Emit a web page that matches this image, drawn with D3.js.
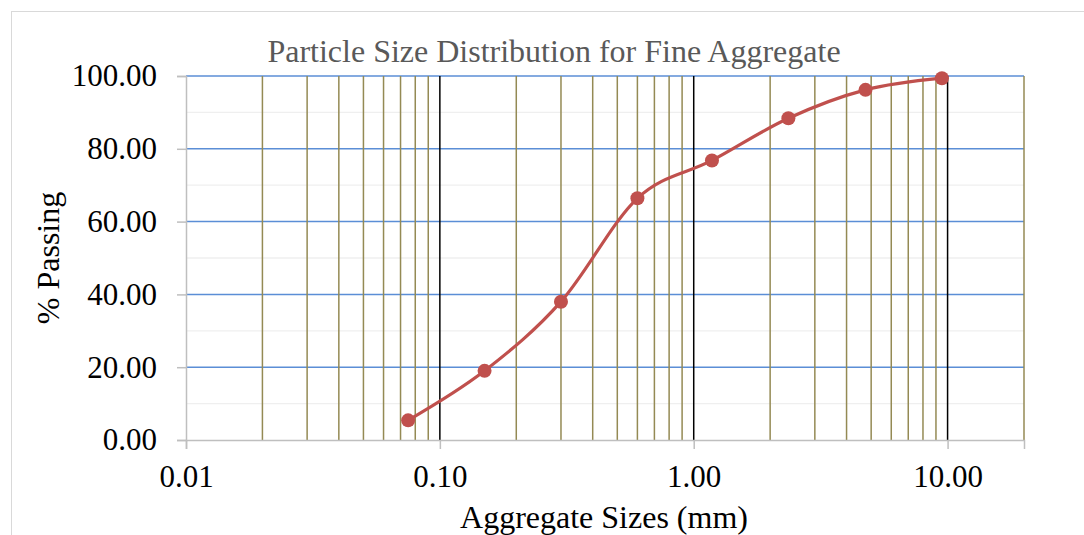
<!DOCTYPE html>
<html>
<head>
<meta charset="utf-8">
<script src="https://cdn.jsdelivr.net/npm/d3@7"></script>
<style>
  body { margin: 0; background: #fff; }
  text { font-family: "Liberation Serif", "Times New Roman", serif; }
</style>
</head>
<body>
<svg id="psdChart" width="1084" height="535"></svg>
<script>
// sieve sizes (mm) and % passing
var sieveSizes = [0.075, 0.15, 0.3, 0.6, 1.18, 2.36, 4.75, 9.5];
var percentPassing = [5.4, 19.0, 38.0, 66.4, 76.8, 88.4, 96.2, 99.4];
var yTicks = [0, 20, 40, 60, 80, 100];
var yMinorTicks = [10, 30, 50, 70, 90];
var xTicks = [0.01, 0.1, 1, 10];
var xGridLines = [0.02, 0.03, 0.04, 0.05, 0.06, 0.07, 0.08, 0.09,
  0.2, 0.3, 0.4, 0.5, 0.6, 0.7, 0.8, 0.9,
  2, 3, 4, 5, 6, 7, 8, 9, 20];
var xDecadeLines = [0.1, 1, 10];

var data = sieveSizes.map(function(s, i) {
  return { size: s, passing: percentPassing[i] };
});

var svg = d3.select("#psdChart"),
  margin = { top: 76, right: 60, bottom: 95, left: 186 },
  width = 1024 - margin.left,
  height = 440 - margin.top;

// outer chart border
svg.append("rect")
  .attr("x", 11.5).attr("y", 11.5)
  .attr("width", 1100).attr("height", 600)
  .attr("fill", "none").attr("stroke", "#d9d9d9");

var x = d3.scaleLog().domain([0.01, 20]).range([0, width]);
var y = d3.scaleLinear().domain([0, 100]).range([height, 0]);

var g = svg.append("g")
  .attr("transform", "translate(" + margin.left + "," + margin.top + ")");

// minor horizontal gridlines
g.selectAll(".minorGrid")
  .data(yMinorTicks).enter().append("line")
  .attr("x1", 0).attr("x2", width)
  .attr("y1", function(d) { return y(d); })
  .attr("y2", function(d) { return y(d); })
  .attr("stroke", "#efefef").attr("stroke-width", 1.3);

// major horizontal gridlines
g.selectAll(".majorGrid")
  .data(yTicks.filter(function(d) { return d > 0; })).enter().append("line")
  .attr("x1", 0).attr("x2", width)
  .attr("y1", function(d) { return y(d); })
  .attr("y2", function(d) { return y(d); })
  .attr("stroke", "#5b8ed6").attr("stroke-width", 1.5);

// vertical gridlines
g.selectAll(".vGrid")
  .data(xGridLines).enter().append("line")
  .attr("x1", function(d) { return x(d); })
  .attr("x2", function(d) { return x(d); })
  .attr("y1", 0).attr("y2", height)
  .attr("stroke", "#948a54").attr("stroke-width", 1.5);

g.selectAll(".vDecade")
  .data(xDecadeLines).enter().append("line")
  .attr("x1", function(d) { return x(d); })
  .attr("x2", function(d) { return x(d); })
  .attr("y1", 0).attr("y2", height)
  .attr("stroke", "#000").attr("stroke-width", 1.5);

// axes
var yAxis = g.append("g")
  .call(d3.axisLeft(y).tickValues(yTicks).tickSize(9).tickPadding(20)
    .tickFormat(d3.format(".2f")));
var xAxis = g.append("g")
  .attr("transform", "translate(0," + height + ")")
  .call(d3.axisBottom(x).tickValues(xTicks).tickSize(9).tickPadding(16)
    .tickFormat(d3.format(".2f")));

[yAxis, xAxis].forEach(function(a) {
  a.select(".domain").attr("stroke", "#bfbfbf").attr("stroke-width", 1.5);
  a.selectAll(".tick line").attr("stroke", "#bfbfbf").attr("stroke-width", 1.5);
  a.selectAll("text")
    .attr("font-family", "Liberation Serif, Times New Roman, serif")
    .attr("font-size", 31).attr("fill", "#000");
});

// smoothed curve
var line = d3.line()
  .x(function(d) { return x(d.size); })
  .y(function(d) { return y(d.passing); })
  .curve(d3.curveCatmullRom.alpha(0));

g.append("path")
  .datum(data)
  .attr("fill", "none")
  .attr("stroke", "#c0504d")
  .attr("stroke-width", 3.2)
  .attr("d", line);

g.selectAll(".dot")
  .data(data).enter().append("circle")
  .attr("cx", function(d) { return x(d.size); })
  .attr("cy", function(d) { return y(d.passing); })
  .attr("r", 7)
  .attr("fill", "#c0504d");

// titles
svg.append("text")
  .attr("x", 554).attr("y", 62)
  .attr("text-anchor", "middle")
  .attr("font-size", 32).attr("fill", "#595959")
  .text("Particle Size Distribution for Fine Aggregate");

svg.append("text")
  .attr("x", 604).attr("y", 528)
  .attr("text-anchor", "middle")
  .attr("font-size", 32).attr("fill", "#000")
  .text("Aggregate Sizes (mm)");

svg.append("text")
  .attr("transform", "translate(59,258) rotate(-90)")
  .attr("text-anchor", "middle")
  .attr("font-size", 32).attr("fill", "#000")
  .text("% Passing");
</script>
</body>
</html>
